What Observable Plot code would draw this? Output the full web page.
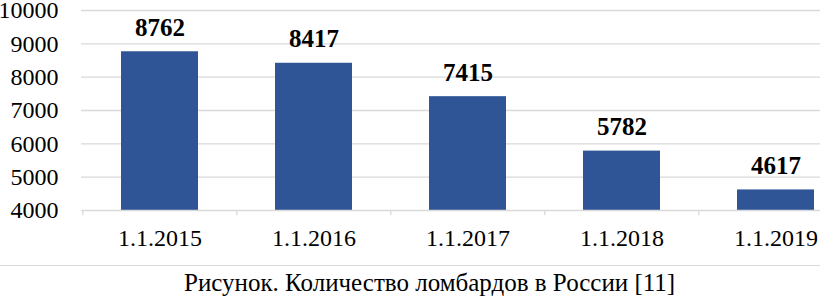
<!DOCTYPE html>
<html>
<head>
<meta charset="utf-8">
<script src="https://cdn.jsdelivr.net/npm/d3@7"></script>
<script src="https://cdn.jsdelivr.net/npm/@observablehq/plot@0.6"></script>
<style>
  html, body { margin: 0; padding: 0; background: #fff; }
  #wrap { width: 820px; height: 297px; overflow: hidden; font-family: "Liberation Serif", serif; }
  #cap { border-top: 1px solid #d9d9d9; font-family: "Liberation Serif", serif; font-size: 25px; line-height: 30px; padding-top: 2px; padding-left: 184px; color: #000; white-space: nowrap; }
  svg { overflow: hidden; }
  svg text { font-family: "Liberation Serif", serif; }
</style>
</head>
<body>
<div id="wrap"></div>
<script>
const categories = ["1.1.2015", "1.1.2016", "1.1.2017", "1.1.2018", "1.1.2019"];
const values = [8762, 8417, 7415, 5782, 4617];
const yTicks = [4000, 5000, 6000, 7000, 8000, 9000, 10000];
const caption = "Рисунок. Количество ломбардов в России [11]";

const data = categories.map((c, i) => ({cat: c, value: values[i]}));
const blue = "#2f5597";
const grid = "#d9d9d9";
const serif = "Liberation Serif";
const step = (853 - 81) / categories.length;

const chart = Plot.plot({
  width: 820,
  height: 265,
  marginTop: 10,
  marginBottom: 55,
  marginLeft: 81,
  marginRight: 0,
  style: {fontFamily: serif, fontSize: "24px", color: "#000", background: "#fff"},
  x: {domain: categories, range: [81, 853], paddingInner: 0.5, paddingOuter: 0.25, label: null},
  y: {domain: [4000, 10000], ticks: yTicks, label: null},
  marks: [
    Plot.ruleY(yTicks.filter(t => t > 4000), {y: d => d, stroke: grid, strokeWidth: 1.3}),
    Plot.barY(data, {x: "cat", y1: 4000, y2: "value", fill: blue}),
    Plot.ruleY([4000], {stroke: grid, strokeWidth: 1.3}),
    Plot.ruleX(categories, {x: d => d, dx: -step / 2, y1: 4000, y2: 3840, stroke: grid, strokeWidth: 1.3, clip: false}),
    Plot.text(data, {x: "cat", y: "value", text: d => String(d.value), dy: -16, lineAnchor: "bottom", fontWeight: "bold", fontSize: 25, fontFamily: serif, fill: "#000"}),
    Plot.axisY({ticks: yTicks, tickSize: 0, tickPadding: 23, fontSize: 24, fontFamily: serif, tickFormat: d => String(d), fill: "#000"}),
    Plot.axisX({tickSize: 0, tickPadding: 18, fontSize: 24, fontFamily: serif, fill: "#000"})
  ]
});
const wrap = document.getElementById("wrap");
wrap.appendChild(chart);
const cap = document.createElement("div");
cap.id = "cap";
cap.textContent = caption;
wrap.appendChild(cap);
</script>
</body>
</html>
